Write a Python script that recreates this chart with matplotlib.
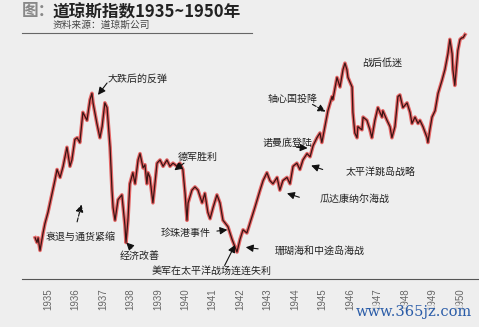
import numpy as np
import matplotlib
matplotlib.use("Agg")
import matplotlib.pyplot as plt

plt.rcParams['font.family'] = ['Noto Sans CJK SC', 'DejaVu Sans']

# Dow Jones index (fractional year, index level)
dates = [1934.53, 1934.60, 1934.64, 1934.71, 1934.82, 1934.89, 1935.00, 1935.15, 1935.25, 1935.33,
         1935.44, 1935.55, 1935.69, 1935.80, 1935.87, 1935.98, 1936.06, 1936.16, 1936.27, 1936.42,
         1936.53, 1936.60, 1936.64, 1936.78, 1936.89, 1936.97, 1937.07, 1937.15, 1937.26, 1937.33,
         1937.37, 1937.44, 1937.55, 1937.69, 1937.80, 1937.84, 1937.91, 1937.98, 1938.09, 1938.17,
         1938.28, 1938.35, 1938.46, 1938.53, 1938.60, 1938.64, 1938.71, 1938.82, 1938.97, 1939.08,
         1939.19, 1939.33, 1939.44, 1939.55, 1939.70, 1939.80, 1939.91, 1939.99, 1940.06, 1940.10,
         1940.24, 1940.35, 1940.46, 1940.61, 1940.71, 1940.82, 1940.90, 1941.01, 1941.15, 1941.26,
         1941.37, 1941.55, 1941.70, 1941.88, 1941.99, 1942.10, 1942.24, 1942.35, 1942.53, 1942.72,
         1942.83, 1942.97, 1943.08, 1943.19, 1943.34, 1943.44, 1943.55, 1943.70, 1943.81, 1943.92,
         1944.06, 1944.17, 1944.28, 1944.43, 1944.54, 1944.65, 1944.79, 1944.90, 1944.97, 1945.08,
         1945.19, 1945.34, 1945.37, 1945.52, 1945.63, 1945.74, 1945.81, 1945.88, 1945.92, 1946.07,
         1946.10, 1946.17, 1946.25, 1946.28, 1946.43, 1946.47, 1946.61, 1946.72, 1946.79, 1946.90,
         1947.01, 1947.16, 1947.19, 1947.34, 1947.45, 1947.52, 1947.63, 1947.74, 1947.81, 1947.92,
         1948.07, 1948.18, 1948.25, 1948.36, 1948.47, 1948.54, 1948.65, 1948.80, 1948.83, 1948.90,
         1948.98, 1949.09, 1949.20, 1949.34, 1949.45, 1949.56, 1949.63, 1949.71, 1949.74, 1949.81,
         1949.89, 1949.92, 1950.00, 1950.07, 1950.11, 1950.18]
values = [102, 99, 102, 94, 105, 111, 118, 130, 138, 145,
          140, 147, 159, 147, 151, 164, 165, 162, 181, 176,
          189, 193, 187, 174, 165, 172, 187, 184, 159, 132,
          121, 113, 126, 129, 110, 99, 113, 136, 143, 136,
          151, 155, 146, 148, 136, 143, 140, 124, 149, 151,
          147, 151, 147, 149, 147, 149, 145, 130, 113, 124,
          132, 134, 132, 124, 130, 118, 114, 121, 129, 124,
          113, 109, 101, 93, 101, 107, 105, 111, 121, 132,
          138, 143, 138, 136, 140, 132, 138, 140, 136, 147,
          149, 145, 151, 155, 153, 160, 165, 168, 162, 172,
          182, 191, 189, 203, 197, 208, 212, 208, 203, 197,
          181, 168, 165, 172, 170, 178, 176, 170, 165, 176,
          184, 178, 182, 176, 172, 165, 172, 191, 192, 184,
          187, 181, 174, 178, 174, 176, 172, 165, 162, 170,
          178, 182, 193, 201, 208, 218, 227, 218, 208, 198,
          214, 220, 227, 228, 228, 230]

years = list(range(1935, 1951))

# annotations: label, text position, arrow tail, arrow tip, dashed tail
notes = [
    ("大跌后的反弹", (1938.25, 202.0), (1937.15, 199.5), (1936.82, 192.0), False),
    ("衰退与通货紧缩", (1936.20, 102.5), (1936.06, 112.0), (1936.22, 123.0), True),
    ("经济改善", (1938.32, 90.5), (1938.05, 95.5), (1937.85, 99.0), False),
    ("德军胜利", (1940.45, 153.0), (1939.95, 149.0), (1939.60, 144.5), False),
    ("珍珠港事件", (1940.00, 105.0), (1941.15, 106.2), (1941.53, 107.0), False),
    ("美军在太平洋战场连连失利", (1940.95, 81.0), (1941.43, 84.5), (1941.81, 97.5), False),
    ("珊瑚海和中途岛海战", (1944.90, 94.0), (1942.65, 95.0), (1942.20, 96.0), False),
    ("瓜达康纳尔海战", (1946.15, 126.5), (1944.15, 127.5), (1943.70, 130.0), False),
    ("诺曼底登陆", (1943.73, 161.5), (1944.05, 159.0), (1944.45, 158.5), False),
    ("太平洋跳岛战略", (1947.10, 143.5), (1945.00, 145.0), (1944.58, 147.5), False),
    ("轴心国投降", (1943.90, 189.5), (1944.63, 186.0), (1945.10, 181.5), True),
    ("战后低迷", (1947.15, 212.0), None, None, False),
]

fig = plt.figure(figsize=(4.79, 3.27), dpi=100)
fig.patch.set_facecolor('#eeeeee')
ax = fig.add_axes([22 / 479, 1 - 279 / 327, 1 - 22 / 479, 249 / 327])
ax.set_facecolor('#eeeeee')

# red glow under a dark line
ax.plot(dates, values, color='#e23a3a', lw=2.6, alpha=0.75, solid_joinstyle='round', clip_on=False)
ax.plot(dates, values, color='#3a1414', lw=0.9, solid_joinstyle='round', clip_on=False)

ax.set_xlim(1934.054, 1950.69)
ax.set_ylim(76.0, 232.9)

for s in ['top', 'right', 'left']:
    ax.spines[s].set_visible(False)
ax.spines['bottom'].set_color('#555555')
ax.spines['bottom'].set_linewidth(0.8)
ax.set_yticks([])
ax.set_xticks(years)
ax.set_xticklabels([str(y) for y in years], rotation=90, fontsize=7,
                   color='#666666', family='Liberation Sans')
ax.tick_params(axis='x', length=0, pad=6.5)

for label, txt, tail, tip, dashed in notes:
    ax.text(txt[0], txt[1], label, fontsize=7.2, color='#222222', ha='center', va='center')
    if tip is not None:
        ax.annotate('', xy=tip, xytext=tail,
                    arrowprops=dict(arrowstyle='-|>', color='#111111', lw=0.8,
                                    mutation_scale=11, shrinkA=0, shrinkB=0,
                                    linestyle='--' if dashed else '-'))

# header
fig.text(22 / 479, 1 - 11 / 327, "图：", fontsize=12, color='#888888', weight='bold', va='center')
fig.text(53 / 479, 1 - 11 / 327, "道琼斯指数1935~1950年", fontsize=12, color='#222222',
         weight='bold', va='center')
fig.text(53 / 479, 1 - 25 / 327, "资料来源：道琼斯公司", fontsize=7, color='#444444', va='center')
fig.add_artist(plt.Line2D([22 / 479, 252 / 479], [1 - 33 / 327, 1 - 33 / 327],
                          color='#666666', lw=0.8))

# watermark sits over the last tick labels, as in the source image
fig.text(472 / 479, 1 - 312 / 327, "www.365jz.com", fontsize=10.5, color='#2a5ca8',
         family='DejaVu Serif', ha='right', va='center', zorder=5,
         bbox=dict(facecolor='#eeeeee', edgecolor='none', pad=0.5, alpha=0.6))

fig.savefig('out.png', dpi=100, facecolor=fig.get_facecolor())
